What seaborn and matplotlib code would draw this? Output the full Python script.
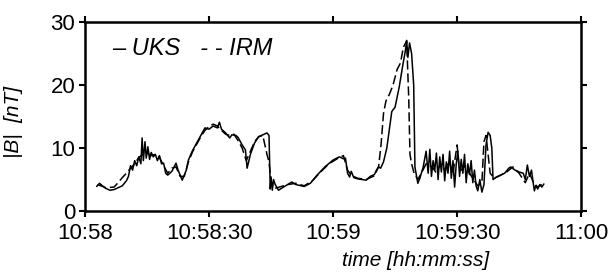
import numpy as np
import pandas as pd
import seaborn as sns
import matplotlib.pyplot as plt

# time in seconds after 10:58:00, |B| in nT
uks_t = [2.8, 3.5, 4.2, 5, 6, 7, 8, 9, 10, 10.5, 11, 11.5, 12, 12.5, 13, 13.5, 13.8, 14.1,
         14.5, 14.8, 15.2, 15.6, 16, 16.5, 17, 17.5, 18, 18.5, 19, 19.5, 20, 21, 22, 22.5,
         23.5, 24.5, 25, 26, 27, 28, 29, 30, 31, 32, 32.5, 33, 34, 35, 35.5, 36.5, 37, 38,
         38.8, 39.2, 40, 41, 42, 43, 44, 44.5, 44.8, 45, 45.3, 45.6, 46, 46.8, 48, 50, 51,
         53, 54.5, 56, 58, 60, 61.5, 62.5, 63, 63.5, 64, 64.4, 65, 66, 67, 68, 69, 70, 70.5,
         71, 71.5, 72.2, 73, 73.5, 74.2, 75, 76, 76.8, 77.5, 77.8, 78.1, 78.5, 79, 79.5,
         79.8, 80.5, 81, 81.8, 82.5, 83, 83.4, 83.8, 84.2, 84.6, 85, 85.4, 85.8, 86.2, 86.6,
         87, 87.4, 87.8, 88.2, 88.6, 89, 89.4, 89.8, 90.2, 90.6, 91, 91.4, 91.8, 92.2, 92.6,
         93, 93.4, 93.8, 94.2, 94.6, 95, 95.5, 96, 96.5, 97, 97.5, 98, 98.4, 98.7, 99.5,
         100.5, 101.5, 102.5, 103, 104, 105, 106, 106.5, 107, 107.5, 108, 108.3, 108.7,
         109, 109.5, 110, 110.5, 111]
uks_b = [3.9, 4.4, 4.0, 3.6, 3.3, 3.4, 3.7, 4.0, 4.8, 5.5, 7.2, 6.5, 8.0, 7.2, 8.6, 7.5, 11.6, 8.0,
         11.0, 8.4, 10.2, 8.2, 9.3, 8.6, 9.0, 8.0, 8.8, 7.5, 7.6, 6.0, 5.7, 6.3, 7.6, 6.5,
         4.9, 6.5, 8.1, 9.6, 10.8, 12.0, 13.2, 13.0, 13.5, 13.2, 14.1, 13.0, 12.4, 11.6, 12.1,
         12.0, 11.7, 10.5, 9.7, 6.8, 9.0, 10.8, 11.8, 12.1, 12.4, 12.0, 3.5, 5.4, 3.3, 5.0,
         4.2, 3.3, 3.8, 4.6, 4.2, 3.9, 4.4, 5.6, 7.0, 8.1, 8.6, 8.3, 8.4, 6.0, 5.4, 6.3, 5.3,
         5.1, 5.0, 4.9, 5.5, 5.8, 6.5, 7.0, 6.8, 7.8, 10.0, 12.4, 15.8, 16.5, 19.7, 22.9,
         25.5, 27.1, 24.4, 26.7, 25.0, 20.0, 7.0, 4.4, 5.2, 7.0, 9.5, 6.0, 9.8, 5.5, 8.0,
         6.5, 9.2, 5.0, 8.6, 6.2, 9.0, 4.8, 7.8, 6.0, 9.5, 5.2, 8.0, 3.8, 7.5, 9.5, 5.5,
         8.2, 6.0, 9.0, 4.5, 7.5, 5.8, 8.0, 4.5, 6.5, 4.0, 3.2, 5.0, 3.0, 4.2, 10.5, 12.5,
         12.0, 10.0, 5.0, 5.4, 5.7, 6.0, 6.8, 7.0, 6.5, 6.2, 6.0, 5.0, 7.3, 5.5, 6.5, 5.0,
         3.2, 4.0, 3.5, 4.2, 3.8, 4.3]

irm_t = [3, 5, 7, 8, 9, 10, 11, 12, 13, 14, 15, 16, 17, 18, 19, 20, 21, 22, 23, 24, 25, 26,
         27, 28, 29, 30, 31, 32, 33, 34, 35, 36, 37, 38, 39, 40, 41, 42, 43, 44, 44.5, 45,
         46, 47, 49, 51, 53, 55, 57, 59, 61, 62.5, 63.5, 64.5, 66, 68, 70, 71, 71.6, 72.2,
         72.8, 73.6, 74.5, 75.5, 76.3, 77, 77.8, 78.3, 78.6, 79, 79.6, 80.5, 81.5, 82.5,
         84, 85, 86, 87, 88, 89, 90, 90.5, 91, 92, 93, 94, 95, 96, 96.5, 97, 97.5, 98, 99,
         100, 102, 103.5, 105, 106.5, 107.5, 108.5, 109.5, 110.5]
irm_b = [4.2, 3.7, 3.8, 4.5, 5.3, 6.0, 6.8, 7.5, 8.5, 9.0, 9.2, 8.8, 9.0, 8.5, 7.2, 6.0, 6.8,
         7.0, 5.5, 5.5, 7.8, 9.4, 10.6, 11.8, 12.8, 13.4, 13.8, 13.5, 12.8, 12.2, 12.0,
         12.2, 11.2, 10.0, 8.0, 9.5, 11.0, 11.8, 12.0, 9.0, 7.8, 4.5, 3.6, 3.8, 4.2, 4.4,
         4.0, 4.8, 6.2, 7.5, 8.3, 8.8, 6.5, 5.6, 5.2, 5.0, 5.6, 7.0, 10.5, 15.5, 17.5, 18.5,
         20.0, 22.5, 23.5, 26.0, 27.0, 18.0, 9.0, 7.5, 6.0, 5.0, 6.2, 7.5, 7.0, 6.0, 7.5,
         6.5, 8.0, 6.0, 10.5, 7.0, 6.5, 7.2, 6.0, 5.0, 4.0, 4.5, 11.0, 12.0, 9.0, 6.0, 5.2,
         5.5, 6.2, 7.0, 6.0, 4.5, 6.0, 4.5, 3.8, 4.2]

tick_pos = [0, 30, 60, 90, 120]
tick_labels = ['10:58', '10:58:30', '10:59', '10:59:30', '11:00']

uks = pd.DataFrame({'t': uks_t, 'B': uks_b})
irm = pd.DataFrame({'t': irm_t, 'B': irm_b})

sns.set_style('ticks')
plt.rcParams['font.family'] = ['Liberation Sans', 'DejaVu Sans']
plt.rcParams['text.color'] = 'black'
plt.rcParams['axes.labelcolor'] = 'black'

fig = plt.figure(figsize=(6.12, 2.79), dpi=100)
ax = fig.add_axes([0.139, 0.2437, 0.8105, 0.677])

sns.lineplot(data=uks, x='t', y='B', ax=ax, color='black', lw=1.1,
             sort=False, estimator=None)
sns.lineplot(data=irm, x='t', y='B', ax=ax, color='black', lw=1.1,
             sort=False, estimator=None, linestyle=(0, (6, 2.5)))

ax.set_xlim(0, 120)
ax.set_ylim(0, 30)
ax.set_xticks(tick_pos)
ax.set_xticklabels(tick_labels)
ax.set_yticks([0, 10, 20, 30])

for s in ax.spines.values():
    s.set_linewidth(1.8)
    s.set_color('black')
ax.tick_params(direction='out', length=4, width=1.5, labelsize=16,
               top=True, right=True, colors='black')
ax.tick_params(axis='x', pad=4.5)
ax.tick_params(axis='y', pad=3)

ax.set_xlabel('time [hh:mm:ss]', fontsize=15, style='italic', labelpad=0)
ax.xaxis.set_label_coords(0.667, -0.21)
ax.set_ylabel('|B|  [nT]', fontsize=15, style='italic')
ax.yaxis.set_label_coords(-0.125, 0.47)

ax.text(0.055, 0.86, '– UKS   - - IRM', transform=ax.transAxes, fontsize=17,
        style='italic', va='center', ha='left')

plt.savefig('out.png', dpi=100)
